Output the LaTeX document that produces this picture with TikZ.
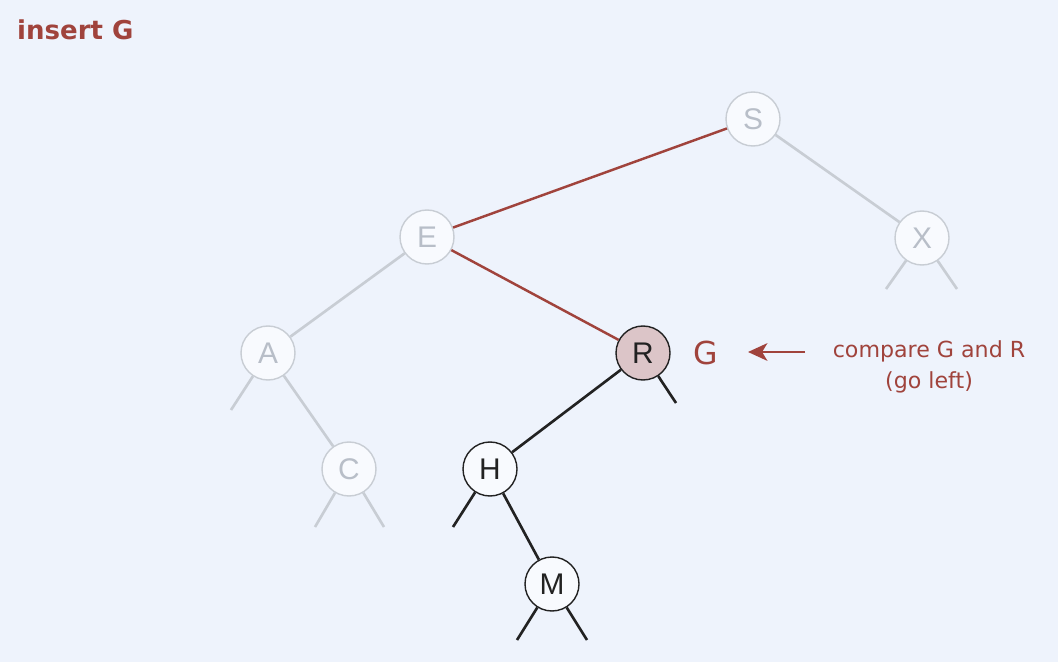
\documentclass[tikz,border=0pt]{standalone}
\usepackage{fontspec}
\setmainfont{DejaVu Sans}
\newfontfamily\keyfont{Liberation Sans}
\usetikzlibrary{arrows.meta}
\definecolor{paper}{HTML}{EEF3FC}
\definecolor{faded}{HTML}{C8CDD4}
\definecolor{fadedtext}{HTML}{B8BEC8}
\definecolor{searchpath}{HTML}{A0433C}
\definecolor{current}{HTML}{DCC5C8}
\definecolor{nodefill}{HTML}{F8FAFE}
\definecolor{ink}{HTML}{222222}

\begin{document}
\begin{tikzpicture}[
		key/.style={circle,minimum size=1.08cm,inner sep=0pt,line width=0.8pt,
			font=\keyfont\fontsize{17}{18}\selectfont},
		oldkey/.style={key,draw=faded,fill=nodefill,text=fadedtext},
		newkey/.style={key,draw=ink,fill=nodefill,text=ink},
		oldlink/.style={draw=faded,line width=1.5pt},
		newlink/.style={draw=ink,line width=1.5pt},
		pathlink/.style={draw=searchpath,line width=1.4pt},
	]
		\fill [paper] (0,0) rectangle (21.16,13.24);
		\useasboundingbox (0,0) rectangle (21.16,13.24);
		% the keys
		\node [oldkey] (S) at (15.06,10.86) {S};
		\node [oldkey] (E) at (8.54,8.50) {E};
		\node [oldkey] (X) at (18.44,8.48) {X};
		\node [oldkey] (A) at (5.36,6.18) {A};
		\node [key,draw=ink,fill=current,text=ink] (R) at (12.86,6.18) {R};
		\node [oldkey] (C) at (6.98,3.86) {C};
		\node [newkey] (H) at (9.80,3.86) {H};
		\node [newkey] (M) at (11.04,1.56) {M};
		% free ends of the null links
		\coordinate (Xl) at (17.72,7.46);
		\coordinate (Xr) at (19.14,7.46);
		\coordinate (Al) at (4.62,5.04);
		\coordinate (Rr) at (13.52,5.18);
		\coordinate (Cl) at (6.30,2.70);
		\coordinate (Cr) at (7.68,2.70);
		\coordinate (Hl) at (9.06,2.70);
		\coordinate (Ml) at (10.34,0.44);
		\coordinate (Mr) at (11.74,0.44);
		% links
		\draw [pathlink] (S) -- (E);
		\draw [pathlink] (E) -- (R);
		\draw [oldlink] (S) -- (X);
		\draw [oldlink] (E) -- (A);
		\draw [oldlink] (A) -- (C);
		\draw [newlink] (R) -- (H);
		\draw [newlink] (H) -- (M);
		\draw [oldlink] (X) -- (Xl);
		\draw [oldlink] (X) -- (Xr);
		\draw [oldlink] (A) -- (Al);
		\draw [oldlink] (C) -- (Cl);
		\draw [oldlink] (C) -- (Cr);
		\draw [newlink] (R) -- (Rr);
		\draw [newlink] (H) -- (Hl);
		\draw [newlink] (M) -- (Ml);
		\draw [newlink] (M) -- (Mr);
		% texts
		\node [anchor=west,text=searchpath,font=\bfseries\fontsize{14.8}{16}\selectfont] (title) at (0.22,12.64) {insert G};
		\node [text=searchpath,font=\fontsize{18}{20}\selectfont] (G) at (14.12,6.18) {G};
		\node [text=searchpath,align=center,font=\fontsize{12.6}{18}\selectfont] (cmp) at (18.58,5.90) {compare G and R\\(go left)};
		\coordinate (tail) at (16.10,6.20);
		\coordinate (tip) at (14.96,6.20);
		\draw [searchpath,line width=1.5pt,-{Stealth[length=11pt,width=10pt,inset=3pt]}] (tail) -- (tip);
	\end{tikzpicture}
\end{document}
